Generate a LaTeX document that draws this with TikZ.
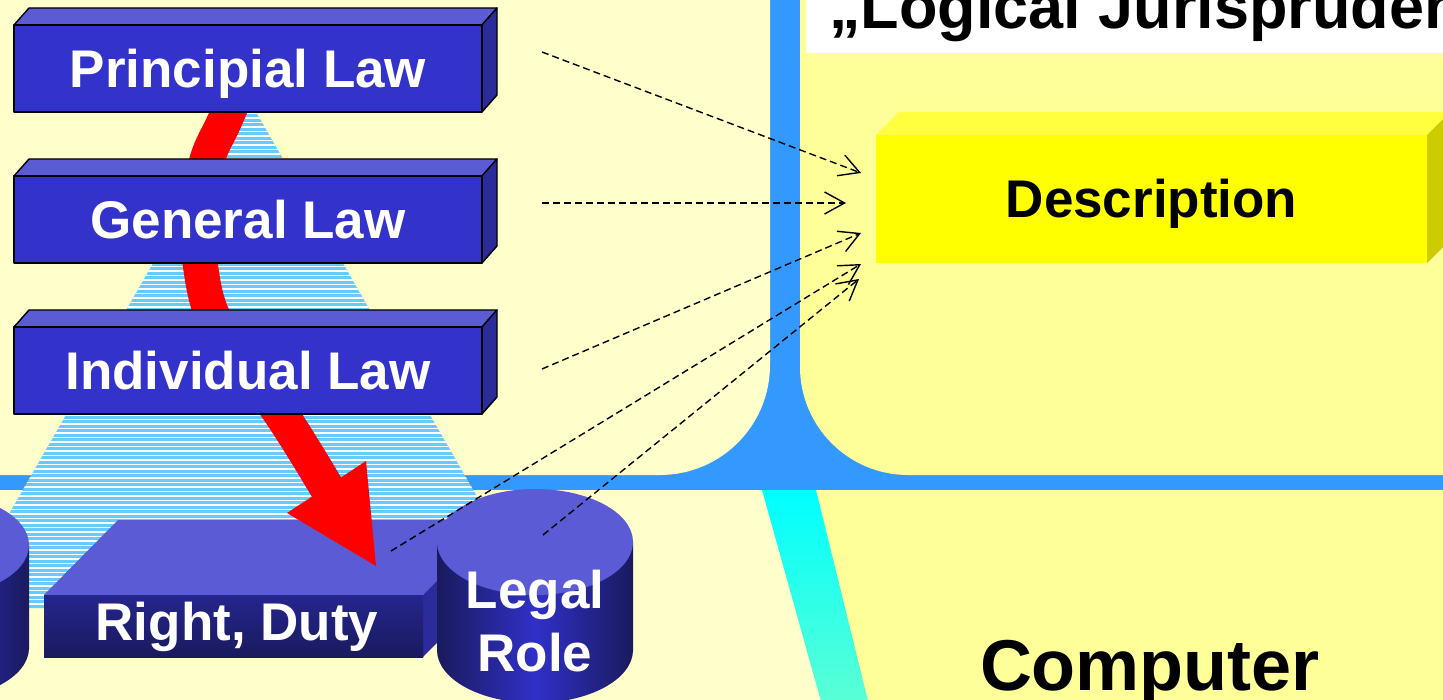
\documentclass[tikz,border=0pt]{standalone}
\usepackage{fontspec}
\setmainfont{Liberation Sans}
\usetikzlibrary{arrows.meta}
\definecolor{pale}{HTML}{FFFFCC}
\definecolor{yel}{HTML}{FFFF99}
\definecolor{barblue}{HTML}{3399FF}
\definecolor{bfront}{HTML}{3333CC}
\definecolor{btop}{HTML}{5B5BD6}
\definecolor{bside}{HTML}{2B2B9C}
\definecolor{stripe}{HTML}{66CCFF}
\definecolor{navy}{HTML}{1A1A5E}
\definecolor{navyt}{HTML}{25258E}
\definecolor{cylmid}{HTML}{3030C8}
\definecolor{cyana}{HTML}{00FFFF}
\definecolor{cyanb}{HTML}{5CFFD4}
\definecolor{dfront}{HTML}{FFFF00}
\definecolor{dtop}{HTML}{FFFF40}
\definecolor{dside}{HTML}{CCCC00}
\newcommand\fsz[1]{\fontsize{#1}{#1}\selectfont}
\begin{document}
\begin{tikzpicture}[x=1pt,y=-1pt,
  lawtext/.style={text=white, font=\fsz{53}\bfseries, inner sep=0pt, anchor=base},
  boxline/.style={draw=black, line width=1.4pt, line join=round},
  dasharrow/.style={draw=black, line width=1.4pt, dash pattern=on 7pt off 4pt, -{Straight Barb[length=20pt,width=22pt]}},
  cylbody/.style={left color=navy, right color=navy, middle color=cylmid}
  ]
\useasboundingbox (0,0) rectangle (1443,700);
% backgrounds
\fill[barblue] (-10,-10) rectangle (1453,490);
\fill[pale] (-10,-10) -- (770,-10) -- (770,365) .. controls (770,425.8) and (720.8,475) .. (660,475) -- (-10,475) -- cycle;
\fill[yel] (800,-10) -- (1453,-10) -- (1453,475) -- (908,475) .. controls (848.4,475) and (800,426.4) .. (800,367) -- cycle;
\fill[pale] (-10,490) rectangle (1453,710);
\fill[yel] (790,490) -- (1453,490) -- (1453,710) -- (845,710) -- cycle;
\shade[top color=cyana, bottom color=cyanb] (762,490) -- (816,490) -- (869,705) -- (822,705) -- cycle;
% title
\fill[white] (806,-5) rectangle (1453,53);
\node[font=\fsz{63}\bfseries, anchor=base west, inner sep=0pt] (title) at (829,29) {„Logical Jurisprudence};
% pyramid
\begin{scope}
\clip (248,98) -- (541,608) -- (-45,608) -- cycle;
\fill[stripe] (-50,95) rectangle (550,610);
\foreach \i in {0,...,113} \draw[white, line width=1.1pt] (-50,100+4.5*\i) -- (550,100+4.5*\i);
\end{scope}
% red band
\draw[red, line width=35pt] plot[smooth, tension=0.6] coordinates {(244,75) (225,120) (207,160) (199,210) (200,263) (218,327) (281,414) (327,488)};
% law boxes
\foreach \yy/\nm/\txt in {25/pl/Principial Law, 176/gl/General Law, 327/il/Individual Law}{
  \filldraw[fill=btop, boxline] (14,\yy) -- (29,\yy-17) -- (497,\yy-17) -- (482,\yy) -- cycle;
  \filldraw[fill=bside, boxline] (482,\yy) -- (497,\yy-17) -- (497,\yy+70) -- (482,\yy+87) -- cycle;
  \filldraw[fill=bfront, boxline] (14,\yy) rectangle (482,\yy+87);
  \node[lawtext] (\nm) at (248,\yy+62.5) {\txt};
}
% left cylinder
\shade[cylbody] (-165,545) rectangle (29,648);
\shade[cylbody] (-68,648) ellipse [x radius=97, y radius=52];
\fill[btop] (-68,545) ellipse [x radius=97, y radius=52];
% right, duty slab
\fill[btop] (44,595) -- (118,520) -- (497,520) -- (423,595) -- cycle;
\fill[bside] (423,595) -- (497,520) -- (497,582) -- (423,657) -- cycle;
\shade[top color=navyt, bottom color=navy] (44,595) rectangle (423,657);
\node[lawtext] (rd) at (237,640) {Right, Duty};
% arrow head
\fill[red] (287,513) -- (366,461) -- (376,566) -- cycle;
% legal role cylinder
\shade[cylbody] (437,542) rectangle (633,650);
\shade[cylbody] (535,650) ellipse [x radius=98, y radius=53];
\fill[btop] (535,542) ellipse [x radius=98, y radius=53];
\node[text=white, font=\fsz{53}\bfseries, inner sep=0pt, align=center, anchor=center, execute at begin node=\setlength{\baselineskip}{63pt}] (lr) at (535,621) {Legal\\Role};
% description box
\fill[dtop] (876,135) -- (899,112) -- (1450,112) -- (1427,135) -- cycle;
\fill[dside] (1427,135) -- (1450,112) -- (1450,240) -- (1427,263) -- cycle;
\fill[dfront] (876,135) rectangle (1427,263);
\node[font=\fsz{53}\bfseries, inner sep=0pt, anchor=base] (desc) at (1151.5,218) {Description};
% computer
\node[font=\fsz{72}\bfseries, inner sep=0pt, anchor=base] (comp) at (1150,690) {Computer};
% dashed arrows
\coordinate (s1) at (542,52);  \coordinate (t1) at (861,173);
\coordinate (s2) at (542,203); \coordinate (t2) at (846,203);
\coordinate (s3) at (542,369); \coordinate (t3) at (861,233);
\coordinate (s4) at (391,551); \coordinate (t4) at (861,264);
\coordinate (s5) at (543,535); \coordinate (t5) at (859,279);
\foreach \k in {1,...,5} \draw[dasharrow] (s\k) -- (t\k);
\end{tikzpicture}
\end{document}
